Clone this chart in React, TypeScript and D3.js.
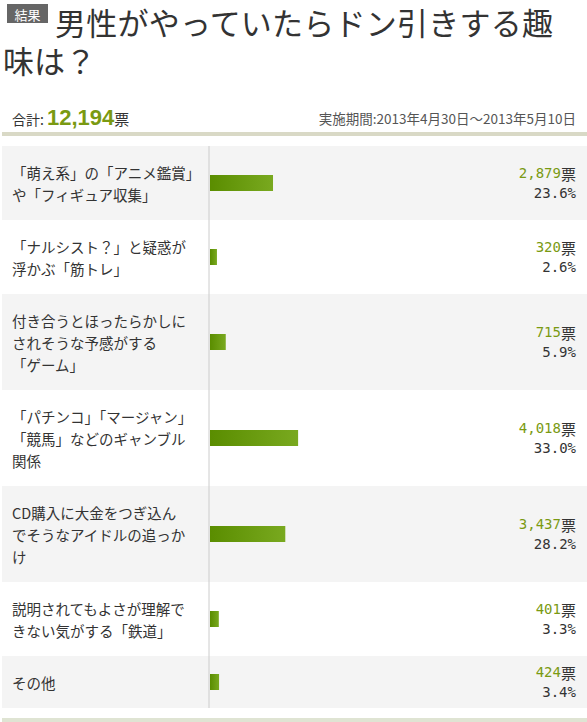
import * as d3 from 'd3';

// poll result: "what hobby would put you off if a man had it?"
const categories: string[][] = [
  ['「萌え系」の「アニメ鑑賞」', 'や「フィギュア収集」'],
  ['「ナルシスト？」と疑惑が', '浮かぶ「筋トレ」'],
  ['付き合うとほったらかしに', 'されそうな予感がする', '「ゲーム」'],
  ['「パチンコ」「マージャン」', '「競馬」などのギャンブル', '関係'],
  ['CD購入に大金をつぎ込ん', 'でそうなアイドルの追っか', 'け'],
  ['説明されてもよさが理解で', 'きない気がする「鉄道」'],
  ['その他'],
];
const votes = [2879, 320, 715, 4018, 3437, 401, 424];
const percents = [23.6, 2.6, 5.9, 33.0, 28.2, 3.3, 3.4];
const totalVotes = 12194;
const titleLines = ['男性がやっていたらドン引きする趣', '味は？'];
const period = '実施期間:2013年4月30日～2013年5月10日';

const W = 587;
const H = 722;
const CJK = '"Noto Sans CJK JP", "Noto Sans", sans-serif';
const NUM = '"DejaVu Sans Mono", "Noto Sans CJK JP", monospace';
const GREEN = '#7a9a12';

const tableTop = 146;
const axisX = 209;
const lineGap = 22;

export default function App() {
  const heights = categories.map((c) => 30 + lineGap * c.length);
  const tops = heights.map((_, i) => tableTop + d3.sum(heights.slice(0, i)));
  const tableBottom = tableTop + d3.sum(heights);

  const x = d3.scaleLinear().domain([0, 100]).range([axisX + 1, axisX + 1 + 267]);
  const fmt = d3.format(',');

  return (
    <svg
      width={W}
      height={H}
      style={{ position: 'absolute', left: 0, top: 0, background: '#fff' }}
      fontFamily={CJK}
    >
      <defs>
        <linearGradient id="barGrad" x1="0" x2="1" y1="0" y2="0">
          <stop offset="0%" stopColor="#5a8d00" />
          <stop offset="100%" stopColor="#79a91f" />
        </linearGradient>
      </defs>

      {/* header */}
      <rect x={7} y={4} width={41} height={19} fill="#666" />
      <text x={27.5} y={14} fill="#fff" fontSize={13} textAnchor="middle" dominantBaseline="central">
        結果
      </text>
      <text x={55} y={35} fontSize={31} fill="#333" textLength={498} lengthAdjust="spacing">
        {titleLines[0]}
      </text>
      <text x={3} y={73} fontSize={31} fill="#333">
        {titleLines[1]}
      </text>

      <text x={12} y={125} fontSize={14} fill="#333">
        合計:
        <tspan dx={3} fontSize={22} fontWeight="bold" fill={GREEN} fontFamily='"Liberation Sans", sans-serif'>
          {fmt(totalVotes)}
        </tspan>
        <tspan fontSize={15}>票</tspan>
      </text>
      <text x={576} y={124} fontSize={13.5} fill="#555" textAnchor="end">
        {period}
      </text>
      <rect x={2} y={132} width={W - 2} height={4} fill="#d9d9c6" />

      {/* rows */}
      {categories.map((lines, i) => {
        const top = tops[i];
        const h = heights[i];
        const cy = top + h / 2;
        return (
          <g key={i}>
            <rect x={2} y={top} width={W - 2} height={h} fill={i % 2 === 0 ? '#f4f4f4' : '#fff'} />
            {lines.map((ln, j) => (
              <text
                key={j}
                x={12}
                y={cy + (j - (lines.length - 1) / 2) * lineGap}
                fontSize={14.5}
                fill="#333"
                dominantBaseline="central"
              >
                {ln}
              </text>
            ))}
            <rect x={x(0)} y={cy - 8} width={x(percents[i]) - x(0)} height={16} fill="url(#barGrad)" />
            <text x={576} y={cy - 10} textAnchor="end" dominantBaseline="central" fontSize={14} fontFamily={NUM}>
              <tspan fill={GREEN}>{fmt(votes[i])}</tspan>
              <tspan fill="#333" fontFamily={CJK} fontSize={15}>
                票
              </tspan>
            </text>
            <text
              x={576}
              y={cy + 10}
              textAnchor="end"
              dominantBaseline="central"
              fontSize={14}
              fill="#333"
              fontFamily={NUM}
            >
              {percents[i].toFixed(1)}%
            </text>
          </g>
        );
      })}

      <line x1={axisX} x2={axisX} y1={tableTop} y2={tableBottom} stroke="#ccc" strokeWidth={1} />

      {/* footer band */}
      <rect x={2} y={tableBottom + 10} width={W - 2} height={H - tableBottom - 10} fill="#dfe4d3" />
    </svg>
  );
}
